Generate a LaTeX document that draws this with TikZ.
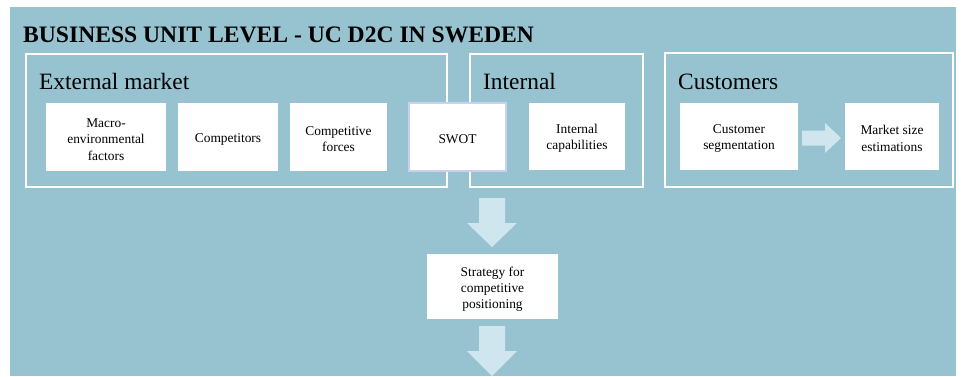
\documentclass[tikz,border=0pt]{standalone}
\usepackage{fontspec}
\setmainfont{Liberation Serif}
\begin{document}
\begin{tikzpicture}[x=1pt,y=-1pt,
  panel/.style={fill=panelblue},
  frame/.style={draw=white,line width=2pt,fill=none,inner sep=0pt},
  card/.style={fill=white,inner sep=0pt},
  swotcard/.style={card,draw=swotedge,line width=1.5pt},
  cardtext/.style={inner sep=0pt,align=center,yshift=-2.5pt,
    font=\fontsize{13.4}{16.2}\selectfont},
  flow/.style={fill=flowblue},
  heading/.style={anchor=base west,inner sep=0pt,font=\fontsize{23.4}{27}\selectfont}]
\definecolor{panelblue}{HTML}{97C3D1}
\definecolor{flowblue}{HTML}{CFE6EE}
\definecolor{swotedge}{HTML}{C9D0F2}
\useasboundingbox (0,0) rectangle (964,376);
\fill[panel] (10,7) rectangle (956,376);

% title
\node[anchor=base west,inner sep=0pt,font=\bfseries\fontsize{23.6}{28}\selectfont]
  (title) at (23,42) {BUSINESS UNIT LEVEL - UC D2C IN SWEDEN};

% group frames
\node[frame,minimum width=421pt,minimum height=133pt] (ext) at (236.5,120.5) {};
\node[frame,minimum width=173pt,minimum height=133pt] (int) at (556.5,120.5) {};
\node[frame,minimum width=288pt,minimum height=134pt] (cus) at (809,120) {};

\node[heading] (exth) at (39,89) {External market};
\node[heading] (inth) at (483,89) {Internal};
\node[heading] (cush) at (678,89) {Customers};

% cards
\node[card,minimum width=120pt,minimum height=68pt] (macro) at (106,137) {};
\node[card,minimum width=100pt,minimum height=68pt] (comp) at (228,137) {};
\node[card,minimum width=97pt,minimum height=68pt] (forces) at (338.5,137) {};
\node[swotcard,minimum width=97pt,minimum height=68pt] (swot) at (457.5,137) {};
\node[card,minimum width=96pt,minimum height=67pt] (capab) at (577,136) {};
\node[card,minimum width=118pt,minimum height=67pt] (segm) at (739,136) {};
\node[card,minimum width=94pt,minimum height=67pt] (msize) at (892,136) {};
\node[card,minimum width=131pt,minimum height=65pt] (strat) at (492.5,286.5) {};

% card texts
\node[cardtext] (macrot) at (macro) {Macro-\\environmental\\factors};
\node[cardtext] (compt) at (comp) {Competitors};
\node[cardtext] (forcest) at (forces) {Competitive\\forces};
\node[cardtext] (swott) at (swot) {SWOT};
\node[cardtext] (capabt) at (capab) {Internal\\capabilities};
\node[cardtext] (segmt) at (segm) {Customer\\segmentation};
\node[cardtext] (msizet) at (msize) {Market size\\estimations};
\node[cardtext] (stratt) at (strat) {Strategy for\\competitive\\positioning};

% block arrows
\fill[flow] (802,130.5) -- (825,130.5) -- (825,123) -- (841,138)
  -- (825,153) -- (825,145.5) -- (802,145.5) -- cycle;
\fill[flow] (479,198) -- (505,198) -- (505,223) -- (517,223) -- (492,247)
  -- (467,223) -- (479,223) -- cycle;
\fill[flow] (479,326) -- (505,326) -- (505,351) -- (517,351) -- (492,376)
  -- (467,351) -- (479,351) -- cycle;
\end{tikzpicture}
\end{document}
